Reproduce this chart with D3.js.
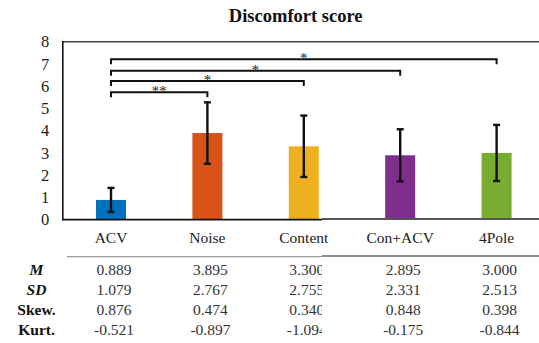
<!DOCTYPE html>
<html>
<head>
<meta charset="utf-8">
<script src="https://cdn.jsdelivr.net/npm/d3@7"></script>
<style>
  html, body { margin: 0; padding: 0; background: #fff; }
  svg { display: block; }
  svg text { font-family: "Liberation Serif", "Times New Roman", Times, "DejaVu Serif", serif; }
</style>
</head>
<body>
<svg id="chart" width="539" height="343"></svg>
<script>
// ---- data ----
const categories = ["ACV", "Noise", "Content", "Con+ACV", "4Pole"];
const means      = [0.889, 3.895, 3.300, 2.895, 3.000];
const errHalf    = [0.54, 1.38, 1.38, 1.17, 1.26];   // error bar half-lengths as drawn
const colors     = ["#0072BD", "#D95319", "#EDB120", "#7E2F8E", "#77AC30"];
const yTicks     = [0, 1, 2, 3, 4, 5, 6, 7, 8];

const rowLabels  = ["M", "SD", "Skew.", "Kurt."];
const rowItalic  = [true, true, false, false];
const tableM     = ["0.889", "3.895", "3.300", "2.895", "3.000"];
const tableSD    = ["1.079", "2.767", "2.755", "2.331", "2.513"];
const tableSkew  = ["0.876", "0.474", "0.340", "0.848", "0.398"];
const tableKurt  = ["-0.521", "-0.897", "-1.094", "-0.175", "-0.844"];

const compTargets = ["Noise", "Content", "Con+ACV", "4Pole"];
const compLevels  = [5.73, 6.23, 6.70, 7.21];
const compLabels  = ["**", "*", "*", "*"];

// ---- layout ----
const FONT = "'Liberation Serif', 'Times New Roman', Times, serif";
const svg = d3.select("#chart").attr("font-family", FONT);
const plotLeft = 62.8, plotTop = 41.7, plotBottom = 219.7, plotRightEdge = 544.8;
const splitX = 322;   // the reference is stitched from two pieces at this x

const x = d3.scalePoint().domain(categories).range([plotLeft, plotRightEdge]).padding(0.5);
const y = d3.scaleLinear().domain([0, 8]).range([plotBottom, plotTop]);
const barW = 30;

// title
svg.append("text").attr("x", 295.7).attr("y", 21.5).attr("text-anchor", "middle")
  .attr("font-family", FONT)
  .attr("font-size", 18.5).attr("font-weight", "bold").attr("fill", "#111")
  .text("Discomfort score");

// y axis labels (no ticks)
const yAxis = d3.axisLeft(y).tickValues(yTicks).tickSize(0).tickPadding(11).tickFormat(d3.format("d"));
const yg = svg.append("g").attr("transform", `translate(${plotLeft},0)`).call(yAxis)
  .attr("font-family", FONT);
yg.select(".domain").remove();
yg.selectAll("text").attr("font-size", 16.5).attr("font-family", FONT).attr("fill", "#222")
  .attr("text-anchor", "middle").attr("x", 45 - plotLeft);

// frame lines
svg.append("line").attr("x1", plotLeft).attr("x2", 539).attr("y1", plotTop).attr("y2", plotTop)
  .attr("stroke", "#444").attr("stroke-width", 1.6);
svg.append("line").attr("x1", plotLeft).attr("x2", plotLeft).attr("y1", plotTop - 0.8).attr("y2", plotBottom + 0.8)
  .attr("stroke", "#111").attr("stroke-width", 1.6);

// bars
svg.append("g").selectAll("rect").data(categories).join("rect")
  .attr("x", d => x(d) - barW / 2)
  .attr("width", barW)
  .attr("y", (d, i) => y(means[i]))
  .attr("height", (d, i) => y(0) - y(means[i]))
  .attr("fill", (d, i) => colors[i]);

// x baseline (black on left piece, gray on right piece)
svg.append("line").attr("x1", plotLeft).attr("x2", splitX).attr("y1", plotBottom).attr("y2", plotBottom)
  .attr("stroke", "#111").attr("stroke-width", 1.8);
svg.append("line").attr("x1", splitX).attr("x2", 539).attr("y1", plotBottom - 0.8).attr("y2", plotBottom - 0.8)
  .attr("stroke", "#555").attr("stroke-width", 2);

// error bars
const eb = svg.append("g").attr("stroke", "#111").attr("stroke-width", 2.4).attr("fill", "none");
categories.forEach((c, i) => {
  const cx = x(c), hi = y(means[i] + errHalf[i]), lo = y(means[i] - errHalf[i]);
  eb.append("line").attr("x1", cx).attr("x2", cx).attr("y1", hi).attr("y2", lo);
  eb.append("line").attr("x1", cx - 3.5).attr("x2", cx + 3.5).attr("y1", hi).attr("y2", hi);
  eb.append("line").attr("x1", cx - 3.5).attr("x2", cx + 3.5).attr("y1", lo).attr("y2", lo);
});

// significance brackets
const br = svg.append("g");
compTargets.forEach((t, i) => {
  const x1 = x(categories[0]), x2 = x(t), yy = y(compLevels[i]);
  br.append("path")
    .attr("d", `M${x1},${yy + 5}V${yy}H${x2}V${yy + 5}`)
    .attr("fill", "none").attr("stroke", "#111").attr("stroke-width", 2);
  br.append("text").attr("x", (x1 + x2) / 2).attr("y", yy + 4).attr("text-anchor", "middle")
    .attr("font-family", FONT)
    .attr("font-size", 15).attr("fill", "#222").text(compLabels[i]);
});

// category labels
svg.append("g").selectAll("text").data(categories).join("text")
  .attr("x", d => x(d)).attr("y", 243).attr("text-anchor", "middle")
  .attr("font-family", FONT)
  .attr("font-size", 15.5).attr("fill", "#222").text(d => d);

// table separator
svg.append("line").attr("x1", 67).attr("x2", splitX).attr("y1", 256.7).attr("y2", 256.7)
  .attr("stroke", "#9a9a9a").attr("stroke-width", 1.2);
svg.append("line").attr("x1", splitX).attr("x2", 539).attr("y1", 256).attr("y2", 256)
  .attr("stroke", "#666").attr("stroke-width", 1.6);

// table
const rows = [tableM, tableSD, tableSkew, tableKurt];
const rowY = [275, 295, 315, 334.5];
svg.append("defs").append("clipPath").attr("id", "clipLeft")
  .append("rect").attr("x", 0).attr("y", 0).attr("width", splitX).attr("height", 343);

rows.forEach((vals, r) => {
  svg.append("text").attr("x", 36.5).attr("y", rowY[r]).attr("text-anchor", "middle")
    .attr("font-family", FONT)
    .attr("font-size", 15.5).attr("font-weight", "bold")
    .attr("font-style", rowItalic[r] ? "italic" : "normal")
    .attr("fill", "#111").text(rowLabels[r]);
  svg.append("g").selectAll("text").data(vals).join("text")
    .attr("x", (d, i) => x(categories[i]) + 3).attr("y", rowY[r]).attr("text-anchor", "middle")
    .attr("font-family", FONT)
    .attr("font-size", 15.5).attr("fill", "#333")
    .attr("clip-path", (d, i) => categories[i] === "Content" ? "url(#clipLeft)" : null)
    .text(d => d);
});
</script>
</body>
</html>
